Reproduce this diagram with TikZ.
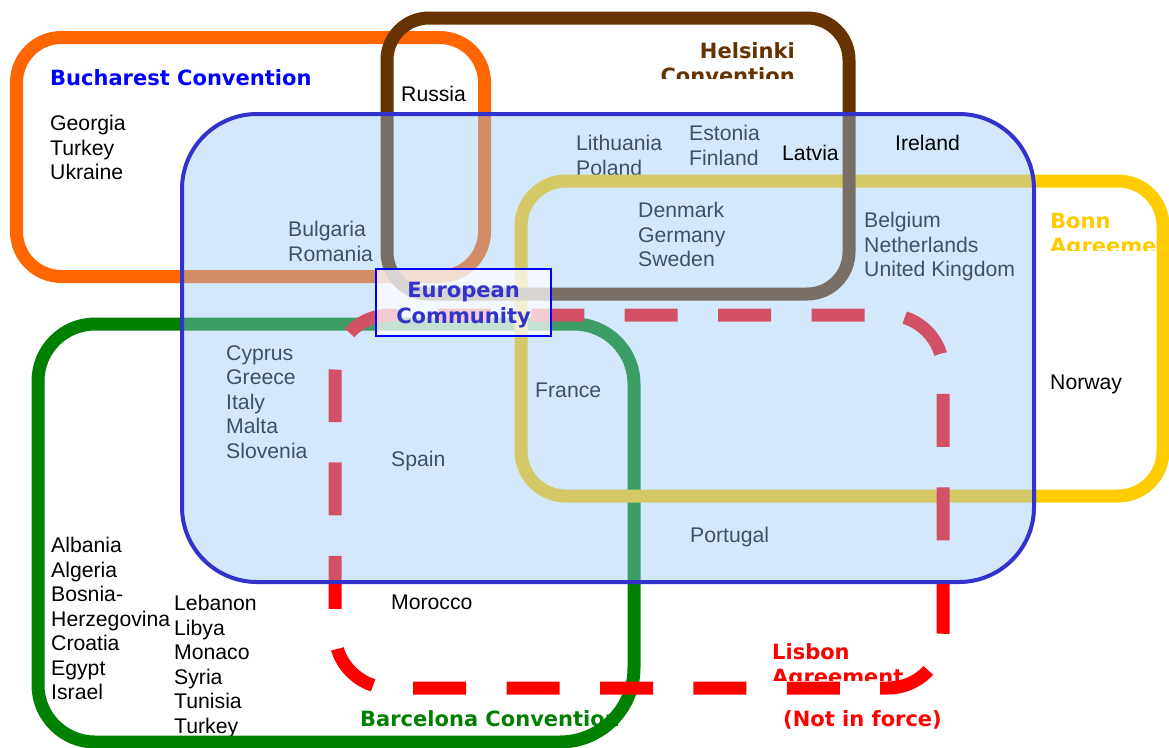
\documentclass[tikz,border=0pt]{standalone}
\usepackage{fontspec}
\setmainfont{Liberation Sans}
\newfontfamily\headfont{DejaVu Sans}

\definecolor{bucharest}{HTML}{FF6600}
\definecolor{helsinki}{HTML}{663300}
\definecolor{bonn}{HTML}{FFCC00}
\definecolor{barcelona}{HTML}{008000}
\definecolor{lisbon}{HTML}{FF0000}
\definecolor{ecline}{HTML}{3333CC}
\definecolor{ecfill}{RGB}{150,199,248}

\begin{document}
\begin{tikzpicture}[
    x=1pt, y=-1pt,
    ring/.style={line width=13pt},
    land/.style={anchor=north west, inner sep=0pt, align=left, font=\fontsize{21.2}{24.5}\selectfont},
    head/.style={anchor=north west, inner sep=0pt, align=left, font=\fontsize{21}{25}\headfont\bfseries}
]
    \useasboundingbox (0,0) rectangle (1169,747);

    % titles
    \node[head, text=blue] (bucharestT) at (50,69) {Bucharest Convention};
    \begin{scope}
        \clip (600,0) rectangle (820,78);
        \node[head, anchor=north east, align=right, text=helsinki] (helsinkiT) at (795,42) {Helsinki\\Convention};
    \end{scope}
    \begin{scope}
        \clip (1040,200) rectangle (1157,250);
        \node[head, text=bonn] (bonnT) at (1050,213) {Bonn\\Agreement};
    \end{scope}
    \begin{scope}
        \clip (760,630) rectangle (920,680);
        \node[head, text=lisbon] (lisbonT) at (772,643) {Lisbon\\Agreement};
    \end{scope}
    \node[head, text=lisbon] (notforce) at (783,710) {(Not in force)};
    \node[head, text=barcelona] (barcelonaT) at (360,710) {Barcelona Convention};

    % countries
    \node[land] (russia) at (401,86) {Russia};
    \node[land] (bucharestonly) at (50,115) {Georgia\\Turkey\\Ukraine};
    \node[land] (balkan) at (288,221) {Bulgaria\\Romania};
    \node[land] (balticA) at (576,135) {Lithuania\\Poland};
    \node[land] (balticB) at (689,125) {Estonia\\Finland};
    \node[land] (nordic) at (638,202) {Denmark\\Germany\\Sweden};
    \node[land] (benelux) at (864,212) {Belgium\\Netherlands\\United Kingdom};
    \node[land] (norway) at (1050,375) {Norway};
    \node[land] (medEU) at (226,345) {Cyprus\\Greece\\Italy\\Malta\\Slovenia};
    \node[land] (spain) at (391,451) {Spain};
    \node[land] (france) at (535,383) {France};
    \node[land] (portugal) at (690,527) {Portugal};
    \node[land] (medA) at (51,537) {Albania\\Algeria\\Bosnia-\\Herzegovina\\Croatia\\Egypt\\Israel};
    \node[land] (medB) at (174,595) {Lebanon\\Libya\\Monaco\\Syria\\Tunisia\\Turkey};
    \node[land] (morocco) at (391,595) {Morocco};

    % conventions
    \draw[ring, bucharest, rounded corners=45] (16.5,37.5) rectangle (484.5,276.5);
    \draw[ring, barcelona] (38,500) [rounded corners=57] -- (38,324) [rounded corners=60] -- (634,324)
        [rounded corners=74] -- (634,742) [rounded corners=57] -- (38,742) -- cycle;
    \draw[ring, bonn, rounded corners=45] (521,181) rectangle (1163,496);
    \draw[ring, helsinki, rounded corners=42] (387,18) rectangle (849,294);
    \draw[ring, lisbon, dash pattern=on 53pt off 40.4pt, dash phase=4pt, rounded corners=55]
        (335,373) -- (335,688) -- (943,688) -- (943,315) -- (335,315) -- (335,373);

    % european community
    \fill[ecfill, fill opacity=0.41, rounded corners=75] (182,114) rectangle (1034,582);
    \draw[ecline, line width=4pt, rounded corners=75] (182,114) rectangle (1034,582);

    \node[land] (latvia) at (782,145) {Latvia};
    \node[land] (ireland) at (895,135) {Ireland};

    \node[draw=blue, line width=1.5pt, fill=white, fill opacity=0.7,
          minimum width=175pt, minimum height=67pt, inner sep=0pt] (ecbox) at (463.5,302.5) {};
    \node[align=center, inner sep=0pt, text=ecline,
          font=\fontsize{21}{26}\headfont\bfseries] (ec) at (463.5,305) {European\\Community};

\end{tikzpicture}
\end{document}
